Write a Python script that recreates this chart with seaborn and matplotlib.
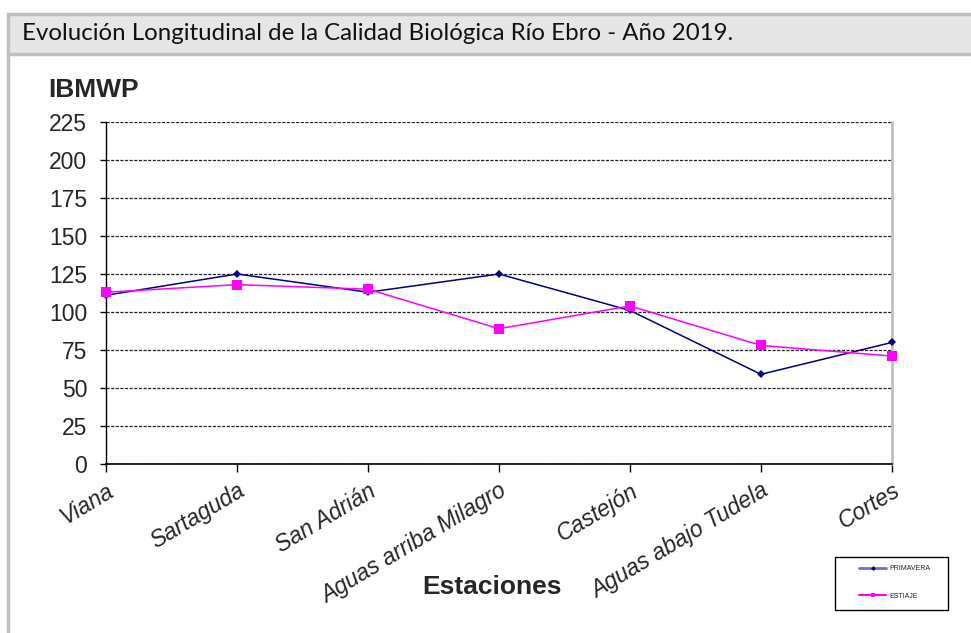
import matplotlib
matplotlib.use("Agg")
import matplotlib.pyplot as plt
import pandas as pd
import seaborn as sns
from matplotlib.patches import Rectangle
from matplotlib.lines import Line2D

# Data
estaciones = ["Viana", "Sartaguda", "San Adrián", "Aguas arriba Milagro",
              "Castejón", "Aguas abajo Tudela", "Cortes"]
primavera = [111, 125, 113, 125, 101, 59, 80]
estiaje = [113, 118, 115, 89, 104, 78, 71]
series_names = ["PRIMAVERA", "ESTIAJE"]
y_ticks = [0, 25, 50, 75, 100, 125, 150, 175, 200, 225]

df = pd.DataFrame({
    "Estación": estaciones * 2,
    "IBMWP": primavera + estiaje,
    "Serie": [series_names[0]] * len(estaciones) + [series_names[1]] * len(estaciones),
})

sns.set_style("white")
plt.rcParams["font.family"] = ["Liberation Sans", "DejaVu Sans"]

W, H = 971, 633
fig = plt.figure(figsize=(W / 100, H / 100), dpi=100)
ax = fig.add_axes([106 / W, 1 - 464 / H, (892 - 106) / W, (464 - 122) / H])

palette = {"PRIMAVERA": "#000080", "ESTIAJE": "#FF00FF"}
markers = {"PRIMAVERA": "D", "ESTIAJE": "s"}
sns.lineplot(data=df, x="Estación", y="IBMWP", hue="Serie", style="Serie",
             palette=palette, markers=markers, dashes=False, sort=False,
             linewidth=1.1, markersize=6, markeredgewidth=0, ax=ax, legend=False)
for line in ax.lines:
    line.set_clip_on(False)
    line.set_zorder(5)
    if line.get_marker() == "D":
        line.set_markersize(4.5)
    else:
        line.set_markersize(7)

ax.set_xlim(0, len(estaciones) - 1)
ax.set_ylim(0, 225)
ax.set_yticks(y_ticks)
ax.yaxis.grid(True, color="#222222", linestyle=(0, (2.5, 1.2)), linewidth=0.9)
ax.set_axisbelow(True)

ax.set_xticks(range(len(estaciones)))
ax.set_xticklabels(estaciones, rotation=31, ha="right", rotation_mode="anchor",
                   fontsize=16.5, style="italic")
ax.tick_params(axis="y", labelsize=16.5, length=4.5, width=1, color="black", direction="out", left=True, pad=9)
ax.tick_params(axis="x", length=6, width=1, color="black", direction="out", bottom=True, pad=5)
ax.set_xlabel("")
ax.set_ylabel("")

ax.spines["top"].set_visible(False)
ax.spines["left"].set_color("black")
ax.spines["left"].set_linewidth(1)
ax.spines["bottom"].set_color("black")
ax.spines["bottom"].set_linewidth(1.2)
ax.spines["right"].set_color("#c0c0c0")
ax.spines["right"].set_linewidth(2)

# axis titles
fig.text(48 / W, 1 - 90 / H, "IBMWP", fontsize=19, fontweight="bold", va="center", ha="left")
fig.text(492 / W, 1 - 587 / H, "Estaciones", fontsize=19, fontweight="bold", va="center", ha="center")

# header band and outer frame
fig.patches.append(Rectangle((8 / W, 1 - 54 / H), 1.0, 40 / H, transform=fig.transFigure,
                             facecolor="#e6e6e6", edgecolor="#c0c0c0", linewidth=2.5, zorder=0))
fig.add_artist(Line2D([8 / W, 8 / W], [0, 1 - 54 / H], transform=fig.transFigure,
                      color="#c0c0c0", linewidth=2.5))
fig.text(22 / W, 1 - 34 / H, "Evolución Longitudinal de la Calidad Biológica Río Ebro - Año 2019.",
         fontsize=17.3, family=["Lato", "DejaVu Sans"], va="center", ha="left", color="#111111")

# legend box
fig.patches.append(Rectangle((835 / W, 1 - 610 / H), 113 / W, 53 / H, transform=fig.transFigure,
                             facecolor="white", edgecolor="black", linewidth=1, zorder=3))
handles = [Line2D([], [], color="#7070c0", linewidth=2, marker="D", markersize=2.5,
                  markerfacecolor="#000080", markeredgewidth=0),
           Line2D([], [], color="#FF00FF", linewidth=1.5, marker="s", markersize=2.5,
                  markeredgewidth=0)]
leg = fig.legend(handles, series_names, loc="upper left", bbox_to_anchor=(856 / W, 1 - 562 / H),
                 frameon=False, fontsize=5, handlelength=3.8, handletextpad=0.5,
                 labelspacing=2.9, borderpad=0)
leg.set_zorder(4)

fig.savefig("out.png", dpi=100)
